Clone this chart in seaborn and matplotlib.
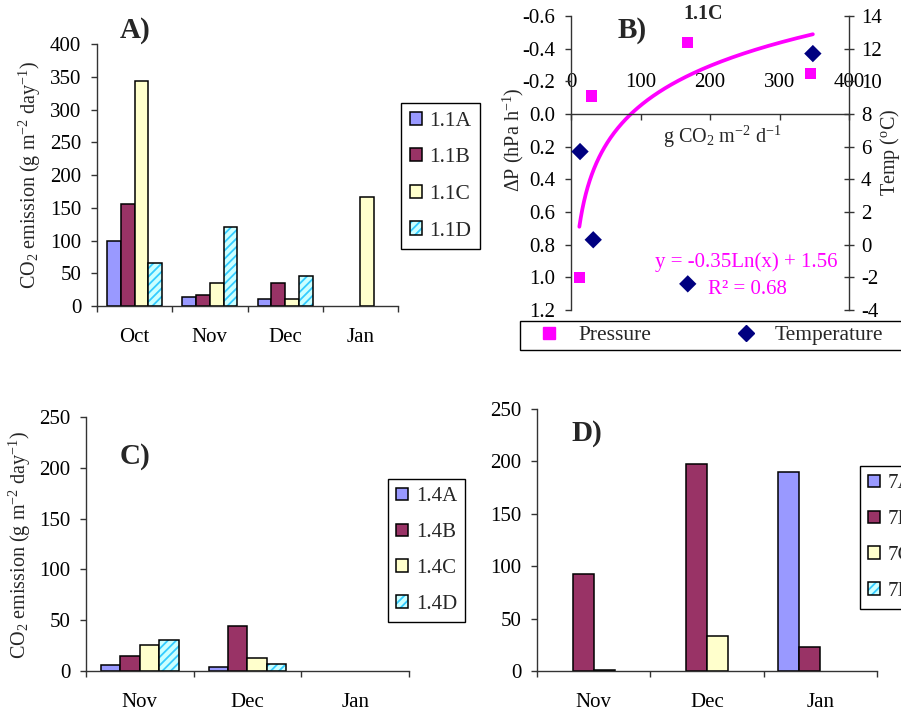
import numpy as np
import pandas as pd
import matplotlib
matplotlib.use("Agg")
import matplotlib.pyplot as plt
import matplotlib.colors as mcolors
from matplotlib.patches import Patch, Rectangle
from matplotlib.lines import Line2D
from matplotlib.legend_handler import HandlerTuple
from matplotlib.ticker import FixedLocator, FormatStrFormatter
import seaborn as sns

# ---------------- data ----------------
# A) site 1.1, CO2 emission (g m-2 day-1)
months_a = ["Oct", "Nov", "Dec", "Jan"]
series_a = ["1.1A", "1.1B", "1.1C", "1.1D"]
a_11A = [100, 14.5, 11, np.nan]
a_11B = [155, 17, 34.5, np.nan]
a_11C = [344, 34.5, 11, 166]
a_11D = [65.5, 120.5, 45.5, np.nan]

# B) 1.1C: pressure change and temperature against CO2 flux
co2_pressure = [12, 30, 167, 345]
dp_pressure = [1.0, -0.11, -0.44, -0.25]
co2_temp = [13, 32, 168, 348]
temp_c = [5.7, 0.3, -2.4, 11.7]
fit_slope = -0.35
fit_intercept = 1.56
fit_r2 = 0.68
dp_ticks = [-0.6, -0.4, -0.2, 0.0, 0.2, 0.4, 0.6, 0.8, 1.0, 1.2]
temp_ticks = [-4, -2, 0, 2, 4, 6, 8, 10, 12, 14]
co2_ticks = [0, 100, 200, 300, 400]

# C) site 1.4
months_c = ["Nov", "Dec", "Jan"]
series_c = ["1.4A", "1.4B", "1.4C", "1.4D"]
c_14A = [5.5, 4, np.nan]
c_14B = [14.5, 44, np.nan]
c_14C = [25.5, 12.5, np.nan]
c_14D = [31, 7, np.nan]

# D) site 7
months_d = ["Nov", "Dec", "Jan"]
series_d = ["7A", "7B", "7C", "7D"]
d_7A = [np.nan, np.nan, 190]
d_7B = [93, 197.5, 22.5]
d_7C = [1, 33.5, np.nan]
d_7D = [np.nan, np.nan, np.nan]

bar_colors = ["#9999FF", "#993366", "#FFFFCC", "#CCFFFF"]
hatch_color = "#33CCFF"
pink = "#FF00FF"
navy = "#000080"

# ---------------- style ----------------
sns.set_theme(style="ticks")
plt.rcParams["font.family"] = ["Liberation Serif", "DejaVu Serif"]
plt.rcParams["mathtext.fontset"] = "custom"
plt.rcParams["mathtext.rm"] = "Liberation Serif"
plt.rcParams["mathtext.it"] = "Liberation Serif:italic"
plt.rcParams["axes.unicode_minus"] = False
plt.rcParams["hatch.linewidth"] = 1.3
plt.rcParams["axes.edgecolor"] = "#333333"
plt.rcParams["axes.linewidth"] = 1.0
plt.rcParams["xtick.color"] = "#333333"
plt.rcParams["ytick.color"] = "#333333"
plt.rcParams["xtick.labelcolor"] = "black"
plt.rcParams["ytick.labelcolor"] = "black"

TICK_FS = 15
W, H = 901, 713
fig = plt.figure(figsize=(W / 100, H / 100), dpi=100)
fig.patch.set_facecolor("white")


def px_axes(left, top, right, bottom):
    return fig.add_axes([left / W, 1 - bottom / H, (right - left) / W, (bottom - top) / H])


def legend_handles():
    handles = []
    for c in bar_colors:
        if c == bar_colors[3]:
            handles.append((Patch(facecolor=c, edgecolor=hatch_color, hatch="////", lw=0),
                            Patch(facecolor="none", edgecolor="black", lw=1.1)))
        else:
            handles.append(Patch(facecolor=c, edgecolor="black", lw=1.1))
    return handles


def bar_panel(ax, months, series, values, ymax, ystep, width):
    frames = [pd.DataFrame({"month": months, "series": name, "value": vals})
              for name, vals in zip(series, values)]
    df = pd.concat(frames, ignore_index=True)
    sns.barplot(data=df, x="month", y="value", hue="series", order=months,
                hue_order=series, palette=dict(zip(series, bar_colors)),
                saturation=1, width=width, gap=0, edgecolor="black",
                linewidth=1.1, errorbar=None, legend=False, ax=ax)
    # hatched series: cyan stripes with a black outline on top
    for p in list(ax.patches):
        if (mcolors.same_color(p.get_facecolor(), bar_colors[3])
                and np.isfinite(p.get_height()) and p.get_height() > 0):
            p.set_hatch("////")
            p.set_edgecolor(hatch_color)
            p.set_linewidth(0)
            ax.add_patch(Rectangle(p.get_xy(), p.get_width(), p.get_height(),
                                   facecolor="none", edgecolor="black", lw=1.1,
                                   zorder=p.get_zorder() + 0.1))
    ax.set_xlim(-0.5, len(months) - 0.5)
    ax.set_ylim(0, ymax)
    ax.set_yticks(np.arange(0, ymax + 1, ystep))
    ax.set_xlabel("")
    ax.set_ylabel("")
    ax.xaxis.set_minor_locator(FixedLocator(np.arange(len(months) + 1) - 0.5))
    ax.tick_params(axis="x", which="major", length=0, pad=15.5, labelsize=TICK_FS)
    ax.tick_params(axis="x", which="minor", length=4.3, width=1.0, direction="out")
    ax.tick_params(axis="y", length=4.3, width=1.0, pad=7, labelsize=TICK_FS)
    sns.despine(ax=ax)


def bar_legend(ax, series, left, top, fs):
    leg = ax.legend(legend_handles(), series,
                    handler_map={tuple: HandlerTuple(ndivide=1, pad=0)},
                    loc="upper left", bbox_to_anchor=(left / W, 1 - top / H),
                    bbox_transform=fig.transFigure, borderaxespad=0, fontsize=fs,
                    handlelength=0.56, handleheight=0.56, handletextpad=0.37,
                    labelspacing=0.81, borderpad=0.4, fancybox=False,
                    edgecolor="black", framealpha=1)
    leg.get_frame().set_linewidth(1.0)
    return leg


ylabel_co2 = "CO$_2$ emission (g m$^{-2}$ day$^{-1}$)"

# ---------------- A ----------------
ax_a = px_axes(97, 44, 398, 306)
bar_panel(ax_a, months_a, series_a, [a_11A, a_11B, a_11C, a_11D], 400, 50, 0.73)
ax_a.set_ylabel(ylabel_co2, fontsize=14.5, va="center")
ax_a.yaxis.set_label_coords(-0.223, 0.5)
ax_a.text(0.126, 1.053, "A)", transform=ax_a.transAxes, fontsize=21, fontweight="bold",
          ha="center", va="center")
bar_legend(ax_a, series_a, 401, 103, 15.5)

# ---------------- B ----------------
ax_b = px_axes(571, 16, 849, 310)
fit_x = np.geomspace(min(co2_pressure), max(co2_temp), 200)
fit_y = fit_slope * np.log(fit_x) + fit_intercept
sns.lineplot(x=fit_x, y=fit_y, ax=ax_b, color=pink, lw=2.7, sort=False)
sns.scatterplot(x=co2_pressure, y=dp_pressure, ax=ax_b, marker="s", s=64, color=pink,
                edgecolor="none", zorder=3)
ax_b.set_xlim(0, 400)
ax_b.set_ylim(1.2, -0.6)
ax_b.set_yticks(dp_ticks)
ax_b.yaxis.set_major_formatter(FormatStrFormatter("%.1f"))
ax_b.set_xticks(co2_ticks)
ax_b.spines["bottom"].set_visible(False)
ax_b.spines["right"].set_visible(False)
ax_b.spines["top"].set_position(("data", 0))
ax_b.xaxis.set_ticks_position("top")
ax_b.tick_params(axis="x", direction="in", length=4.3, width=1.0, pad=16, labelsize=TICK_FS)
ax_b.tick_params(axis="y", direction="out", length=4.3, width=1.0, pad=7, labelsize=TICK_FS)
ax_b.set_xlabel("")
ax_b.set_ylabel("ΔP (hPa h$^{-1}$)", fontsize=14.5, va="center")
ax_b.yaxis.set_label_coords(-0.209, 0.578)
ax_b.text(0.543, 0.588, "g CO$_2$ m$^{-2}$ d$^{-1}$", transform=ax_b.transAxes,
          fontsize=14.5, ha="center", va="center")
ax_b.text(0.219, 0.952, "B)", transform=ax_b.transAxes, fontsize=21, fontweight="bold",
          ha="center", va="center")
ax_b.text(0.475, 1.007, "1.1C", transform=ax_b.transAxes, fontsize=14.5, fontweight="bold",
          ha="center", va="center")
ax_b.text(0.63, 0.163, f"y = {fit_slope:.2f}Ln(x) + {fit_intercept:.2f}",
          transform=ax_b.transAxes, fontsize=15, color=pink, ha="center", va="center")
ax_b.text(0.633, 0.071, f"R² = {fit_r2:.2f}", transform=ax_b.transAxes,
          fontsize=15, color=pink, ha="center", va="center")

ax_t = ax_b.twinx()
sns.scatterplot(x=co2_temp, y=temp_c, ax=ax_t, marker="D", s=78, color=navy,
                edgecolor="none", zorder=3)
ax_t.set_ylim(-4, 14)
ax_t.set_yticks(temp_ticks)
for s in ["top", "bottom", "left"]:
    ax_t.spines[s].set_visible(False)
ax_t.tick_params(axis="y", direction="inout", length=7, width=1.0, pad=5, labelsize=TICK_FS)
ax_t.set_ylabel("Temp ($^{\\rm o}$C)", fontsize=14.5, va="center", rotation=90)
ax_t.yaxis.set_label_coords(1.147, 0.537)

# series key below panel B; the blank third slot carries the box past the right edge
leg_b = ax_t.legend([Line2D([], [], marker="s", color=pink, ls="none", ms=8),
                     Line2D([], [], marker="D", color=navy, ls="none", ms=8),
                     Line2D([], [], ls="none")],
                    ["Pressure", "Temperature", ""], ncol=3, loc="upper left",
                    bbox_to_anchor=(520 / W, 1 - 321 / H), bbox_transform=fig.transFigure,
                    borderaxespad=0, fontsize=15.5, handlelength=2.3, handletextpad=0.2,
                    columnspacing=3.25, borderpad=0.2, fancybox=False,
                    edgecolor="black", framealpha=1)
leg_b.get_frame().set_linewidth(1.0)

# ---------------- C ----------------
ax_c = px_axes(86, 417, 409, 671)
bar_panel(ax_c, months_c, series_c, [c_14A, c_14B, c_14C, c_14D], 250, 50, 0.72)
ax_c.set_ylabel(ylabel_co2, fontsize=14.5, va="center")
ax_c.yaxis.set_label_coords(-0.204, 0.496)
ax_c.text(0.152, 0.843, "C)", transform=ax_c.transAxes, fontsize=21, fontweight="bold",
          ha="center", va="center")
bar_legend(ax_c, series_c, 388, 479, 15)

# ---------------- D ----------------
ax_d = px_axes(537, 409, 877, 671)
bar_panel(ax_d, months_d, series_d, [d_7A, d_7B, d_7C, d_7D], 250, 50, 0.74)
ax_d.text(0.147, 0.908, "D)", transform=ax_d.transAxes, fontsize=21, fontweight="bold",
          ha="center", va="center")
bar_legend(ax_d, series_d, 860, 466, 15)

fig.savefig("out.png", dpi=100, facecolor="white")
